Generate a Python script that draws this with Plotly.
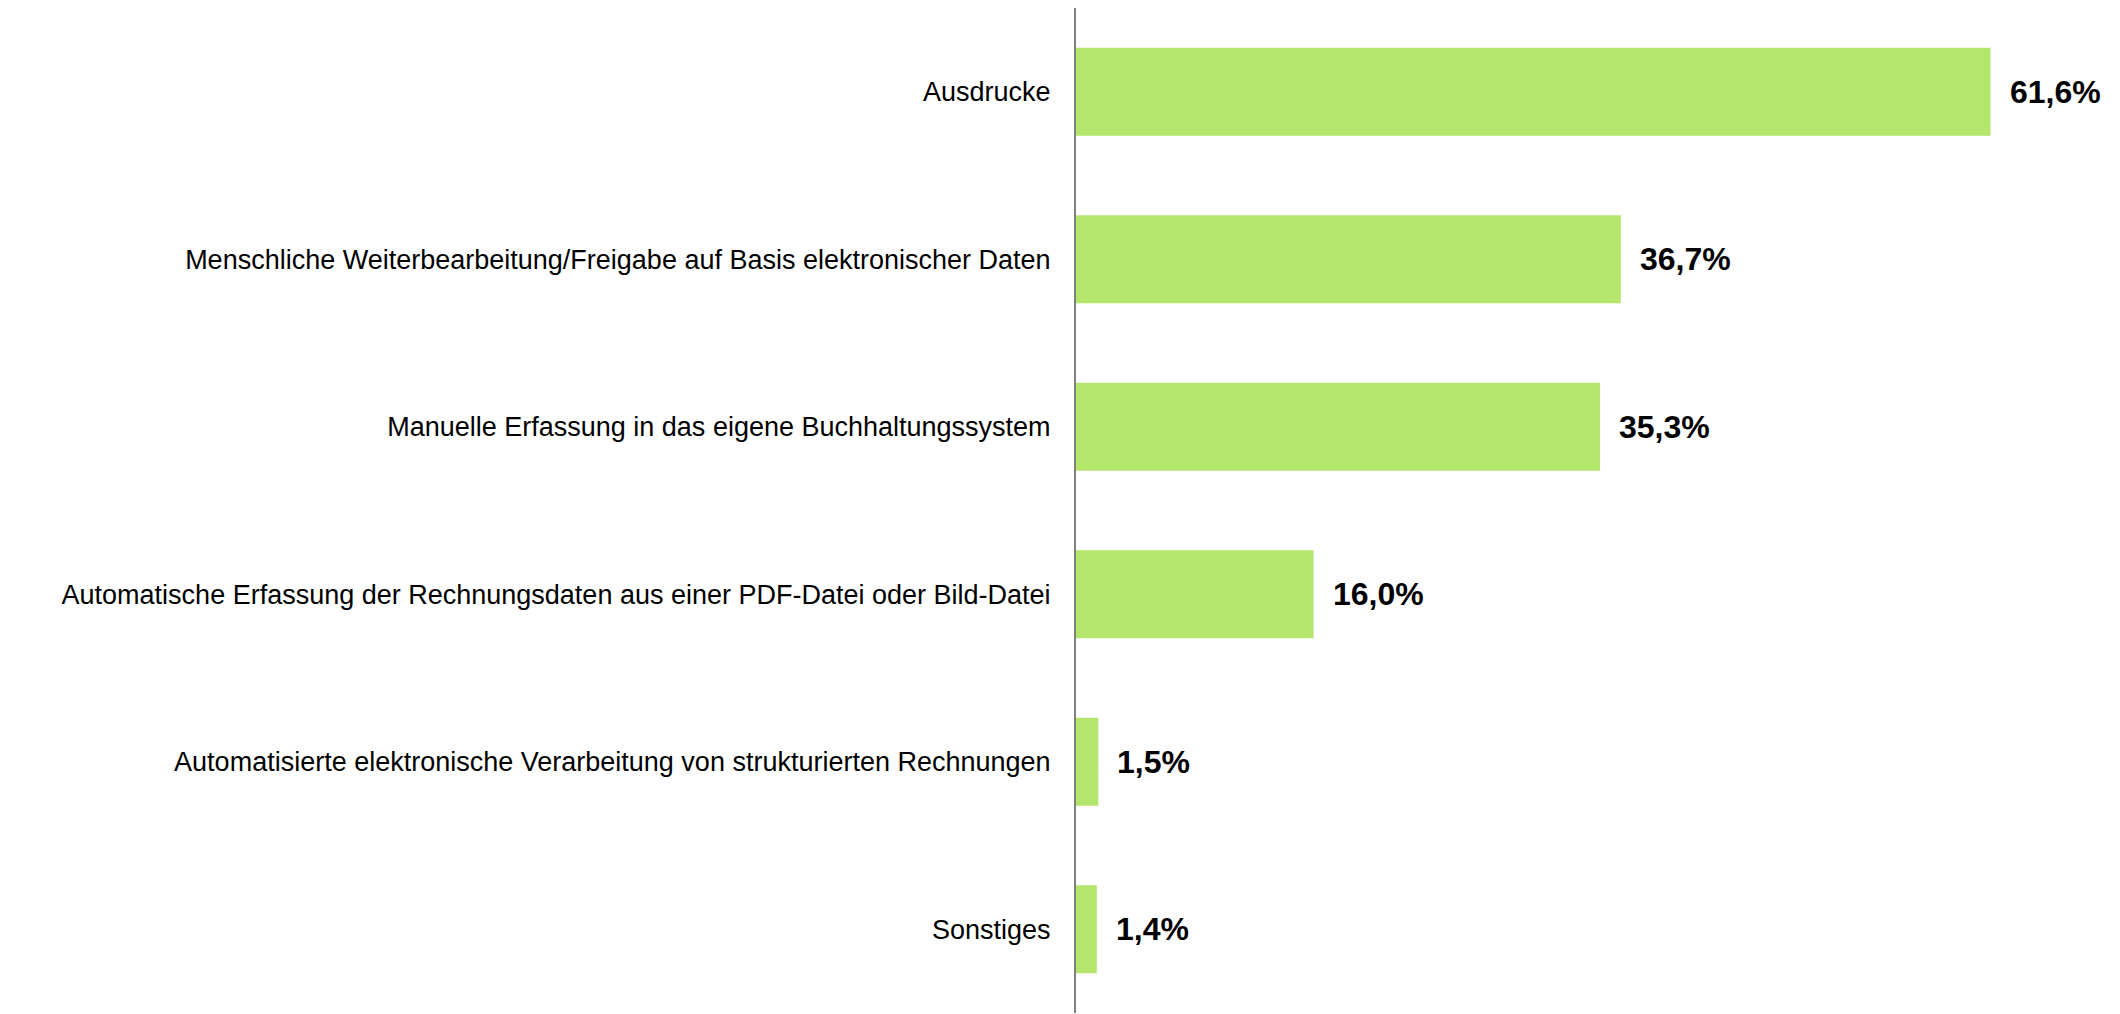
import plotly.graph_objects as go

categories = [
    "Ausdrucke",
    "Menschliche Weiterbearbeitung/Freigabe auf Basis elektronischer Daten",
    "Manuelle Erfassung in das eigene Buchhaltungssystem",
    "Automatische Erfassung der Rechnungsdaten aus einer PDF-Datei oder Bild-Datei",
    "Automatisierte elektronische Verarbeitung von strukturierten Rechnungen",
    "Sonstiges",
]
values = [61.6, 36.7, 35.3, 16.0, 1.5, 1.4]
value_labels = ["61,6%", "36,7%", "35,3%", "16,0%", "1,5%", "1,4%"]

fig = go.Figure()
fig.add_trace(go.Bar(
    x=values, y=categories, orientation="h",
    marker=dict(color="#B3E66A", line=dict(width=0)),
    width=0.525, hoverinfo="skip",
))
for v, c, t in zip(values, categories, value_labels):
    fig.add_annotation(x=v, y=c, text="<b>" + t + "</b>", showarrow=False, xanchor="left",
                       xshift=17, font=dict(family="Liberation Sans", size=32, color="black"))

fig.update_layout(
    width=2112, height=1006,
    margin=dict(l=1068, r=79, t=0, b=1, autoexpand=False),
    paper_bgcolor="white", plot_bgcolor="white",
    showlegend=False,
    font=dict(family="Liberation Sans", color="black"),
)
fig.update_xaxes(range=[0, 65], visible=False, showgrid=False, zeroline=False)
fig.update_yaxes(
    autorange="reversed", showgrid=False, zeroline=False,
    showline=True, linecolor="#808080", linewidth=2,
    ticks="", ticklabelstandoff=18, automargin=False,
    tickfont=dict(family="Liberation Sans", size=27, color="black"),
)
fig.write_html("out.html")
